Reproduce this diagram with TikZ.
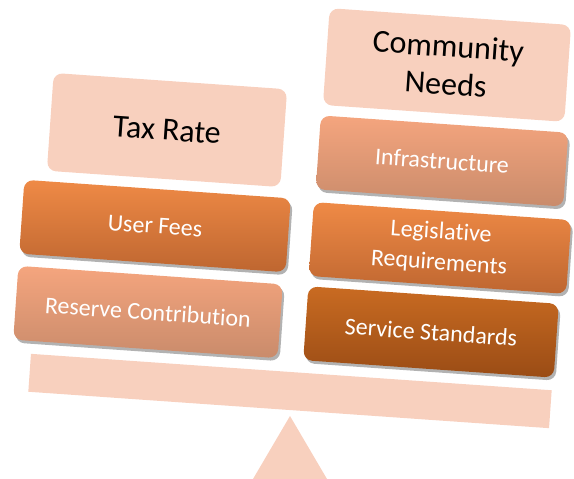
\documentclass[tikz,border=0pt]{standalone}
\usepackage{fontspec}
\setmainfont[Ligatures=NoCommon]{Carlito}
\usepackage{tikz}
\usetikzlibrary{shadows}

\definecolor{peach}{HTML}{F8D0BE}
\definecolor{fee top}{HTML}{EF8A46}
\definecolor{fee bot}{HTML}{BE6630}
\definecolor{res top}{HTML}{F5A57E}
\definecolor{res bot}{HTML}{C98B6B}
\definecolor{srv top}{HTML}{C96B22}
\definecolor{srv bot}{HTML}{9A4C15}

\tikzset{
  headbox/.style={fill=peach, rounded corners=9pt, rotate=-4, align=center,
    font=\fontsize{32}{38}\selectfont, text=black},
  plate/.style={rounded corners=9pt, rotate=-4, align=center, minimum height=74pt,
    font=\fontsize{24}{31}\selectfont, text=white,
    drop shadow={shadow xshift=2pt, shadow yshift=-3pt, opacity=0.3, fill=black}},
}

\begin{document}
\begin{tikzpicture}[x=1pt,y=-1pt]
  %%%%% START %%%%%
  \useasboundingbox (0,0) rectangle (574,479);

  % fulcrum and beam
  \fill[peach] (290,416) -- (327,479) -- (253,479) -- cycle;
  \node[fill=peach, rotate=-4, minimum width=522pt, minimum height=38pt, inner sep=0pt] (beam) at (290,391) {};

  % left pan
  \node[headbox, minimum width=234pt, minimum height=98pt] (tax) at (167,130) {Tax Rate};
  \node[plate, minimum width=267pt, top color=fee top, bottom color=fee bot] (fees) at (155,226) {User Fees};
  \node[plate, minimum width=265pt, top color=res top, bottom color=res bot] (reserve) at (148,312) {Reserve Contribution};

  % right pan
  \node[headbox, minimum width=242pt, minimum height=97pt] (needs) at (447,65) {Community\\Needs};
  \node[plate, minimum width=248pt, top color=res top, bottom color=res bot] (infra) at (442,161) {Infrastructure};
  \node[plate, minimum width=258pt, top color=fee top, bottom color=fee bot] (legis) at (440,248) {Legislative\\Requirements};
  \node[plate, minimum width=251pt, top color=srv top, bottom color=srv bot] (service) at (431,332) {Service Standards};
  %%%%% END %%%%%
\end{tikzpicture}
\end{document}
